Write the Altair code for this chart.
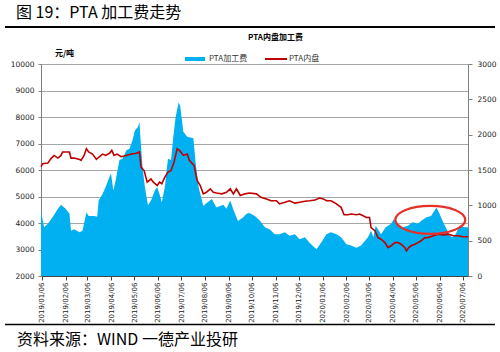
import altair as alt
import pandas as pd

# ---------------- data ----------------
fee_dates = [
    "2019/01/05", "2019/01/09", "2019/01/14", "2019/01/20", "2019/01/27", "2019/01/31",
    "2019/02/06", "2019/02/11", "2019/02/13", "2019/02/17", "2019/02/24", "2019/02/28",
    "2019/03/05", "2019/03/08", "2019/03/15", "2019/03/19", "2019/03/21", "2019/03/26",
    "2019/03/30", "2019/04/04", "2019/04/06", "2019/04/09", "2019/04/12", "2019/04/17",
    "2019/04/21", "2019/04/26", "2019/04/30", "2019/05/04", "2019/05/07", "2019/05/11",
    "2019/05/13", "2019/05/14", "2019/05/17", "2019/05/20", "2019/05/24", "2019/05/28",
    "2019/06/02", "2019/06/05", "2019/06/08", "2019/06/11", "2019/06/15", "2019/06/19",
    "2019/06/23", "2019/06/26", "2019/06/29", "2019/07/03", "2019/07/05", "2019/07/09",
    "2019/07/14", "2019/07/22", "2019/07/25", "2019/07/29", "2019/08/04", "2019/08/08",
    "2019/08/15", "2019/08/21", "2019/08/30", "2019/09/03", "2019/09/08", "2019/09/12",
    "2019/09/18", "2019/09/25", "2019/09/29", "2019/10/03", "2019/10/10", "2019/10/16",
    "2019/10/23", "2019/10/29", "2019/11/05", "2019/11/11", "2019/11/18", "2019/11/24",
    "2019/12/01", "2019/12/07", "2019/12/14", "2019/12/20", "2019/12/29", "2020/01/04",
    "2020/01/11", "2020/01/17", "2020/01/24", "2020/01/30", "2020/02/06", "2020/02/12",
    "2020/02/19", "2020/02/25", "2020/03/05", "2020/03/09", "2020/03/12", "2020/03/15",
    "2020/03/22", "2020/03/28", "2020/04/04", "2020/04/08", "2020/04/13", "2020/04/19",
    "2020/04/26", "2020/05/02", "2020/05/09", "2020/05/13", "2020/05/20", "2020/05/26",
    "2020/06/02", "2020/06/06", "2020/06/10", "2020/06/14", "2020/06/19", "2020/06/23",
    "2020/06/27", "2020/07/02", "2020/07/09", "2020/07/13",
]
fee_values = [
    920, 690, 740, 830, 950, 1010,
    950, 880, 640, 660, 620, 640,
    900, 850, 850, 840, 1070, 1160,
    1260, 1400, 1450, 1210, 1350, 1640,
    1660, 1780, 1800, 1920, 2060, 2110,
    2180, 1990, 1540, 1260, 1000, 1070,
    1210, 1260, 1160, 1040, 1260, 1660,
    1640, 1970, 2250, 2460, 2400, 2040,
    1970, 1950, 1600, 1250, 990, 1030,
    1090, 970, 1010, 950, 1070, 940,
    780, 830, 880, 890, 850, 790,
    690, 660, 590, 590, 620, 570,
    590, 520, 550, 470, 380, 470,
    590, 620, 590, 550, 450, 430,
    400, 430, 550, 640, 550, 710,
    590, 690, 740, 810, 740, 690,
    710, 760, 740, 780, 830, 850,
    970, 880, 780, 690, 570, 550,
    590, 710, 690, 690,
]

price_dates = [
    "2019/01/05", "2019/01/07", "2019/01/14", "2019/01/18", "2019/01/22", "2019/01/27",
    "2019/01/31", "2019/02/02", "2019/02/11", "2019/02/13", "2019/02/17", "2019/02/24",
    "2019/02/26", "2019/03/02", "2019/03/05", "2019/03/08", "2019/03/13", "2019/03/18",
    "2019/03/21", "2019/03/26", "2019/03/30", "2019/04/04", "2019/04/07", "2019/04/10",
    "2019/04/14", "2019/04/19", "2019/04/26", "2019/05/02", "2019/05/09", "2019/05/13",
    "2019/05/15", "2019/05/19", "2019/05/23", "2019/05/28", "2019/05/31", "2019/06/05",
    "2019/06/08", "2019/06/11", "2019/06/15", "2019/06/19", "2019/06/23", "2019/06/27",
    "2019/07/01", "2019/07/04", "2019/07/09", "2019/07/14", "2019/07/17", "2019/07/23",
    "2019/07/27", "2019/07/31", "2019/08/04", "2019/08/08", "2019/08/13", "2019/08/17",
    "2019/08/21", "2019/08/28", "2019/09/03", "2019/09/08", "2019/09/12", "2019/09/16",
    "2019/09/21", "2019/09/27", "2019/10/03", "2019/10/12", "2019/10/18", "2019/10/25",
    "2019/10/31", "2019/11/07", "2019/11/11", "2019/11/18", "2019/11/24", "2019/12/01",
    "2019/12/07", "2019/12/14", "2019/12/20", "2019/12/27", "2020/01/02", "2020/01/07",
    "2020/01/11", "2020/01/17", "2020/01/24", "2020/01/30", "2020/02/03", "2020/02/08",
    "2020/02/12", "2020/02/19", "2020/02/23", "2020/02/27", "2020/03/03", "2020/03/07",
    "2020/03/09", "2020/03/14", "2020/03/18", "2020/03/22", "2020/03/27", "2020/03/31",
    "2020/04/04", "2020/04/09", "2020/04/13", "2020/04/17", "2020/04/22", "2020/04/24",
    "2020/04/27", "2020/04/30", "2020/05/05", "2020/05/09", "2020/05/13", "2020/05/18",
    "2020/05/22", "2020/05/29", "2020/06/04", "2020/06/11", "2020/06/17", "2020/06/24",
    "2020/06/30", "2020/07/06", "2020/07/13",
]
price_values = [
    6130, 6240, 6260, 6430, 6550, 6450,
    6550, 6680, 6680, 6450, 6450, 6400,
    6360, 6550, 6800, 6680, 6600, 6400,
    6480, 6600, 6550, 6630, 6740, 6550,
    6600, 6500, 6550, 6600, 6630, 6680,
    6110, 5980, 5540, 5660, 5540, 5410,
    5540, 5480, 5730, 5920, 5980, 6300,
    6800, 6740, 6550, 6600, 6360, 6170,
    5600, 5410, 5100, 5160, 5290, 5160,
    5130, 5100, 5160, 5290, 5100, 5290,
    5040, 5100, 5130, 5100, 4970, 4910,
    4840, 4840, 4720, 4780, 4840, 4750,
    4780, 4820, 4840, 4870, 4940, 4910,
    4840, 4840, 4720, 4590, 4310, 4310,
    4340, 4310, 4340, 4280, 4210, 4210,
    3830, 3710, 3450, 3390, 3260, 3070,
    3140, 3260, 3260, 3200, 3070, 2950,
    3070, 3140, 3200, 3260, 3330, 3450,
    3450, 3520, 3580, 3550, 3580, 3520,
    3520, 3480, 3480,
]

tick_labels = [
    "2019/01/06", "2019/02/06", "2019/03/06", "2019/04/06", "2019/05/06", "2019/06/06",
    "2019/07/06", "2019/08/06", "2019/09/06", "2019/10/06", "2019/11/06", "2019/12/06",
    "2020/01/06", "2020/02/06", "2020/03/06", "2020/04/06", "2020/05/06", "2020/06/06",
    "2020/07/06",
]
left_ticks = [2000, 3000, 4000, 5000, 6000, 7000, 8000, 9000, 10000]
right_ticks = [0, 500, 1000, 1500, 2000, 2500, 3000]

highlight_date = ["2020/05/25"]
highlight_price = [4120]

series_fee = "PTA加工费"
series_price = "PTA内盘"

# ---------------- build ----------------
def to_dt(s):
    y, m, d = (int(p) for p in s.split("/"))
    return alt.DateTime(year=y, month=m, date=d)

fee_df = pd.DataFrame({"date": fee_dates, "fee": fee_values})
price_df = pd.DataFrame({"date": price_dates, "price": price_values})
hl_df = pd.DataFrame({"date": highlight_date, "price": highlight_price})

BLUE = "#00B0F0"
RED = "#C00000"
FONT = "DejaVu Sans"
CJK = "Noto Sans CJK SC"

x_scale = alt.Scale(domain=[to_dt("2019/01/05"), to_dt("2020/07/13")])
x_axis = alt.Axis(
    values=[to_dt(t) for t in tick_labels], format="%Y/%m/%d", labelAngle=270,
    labelFontSize=7, labelFont=FONT, labelColor="#222222", labelOverlap=False,
    tickSize=4, tickColor="#444444", domainColor="#444444", grid=False, title=None,
    labelPadding=2,
)
X = alt.X("date:T", scale=x_scale, axis=x_axis)

area = alt.Chart(fee_df).mark_area(color=BLUE, opacity=1).encode(
    x=X,
    y=alt.Y("fee:Q", scale=alt.Scale(domain=[0, 3000], nice=False),
            axis=alt.Axis(orient="right", values=right_ticks, grid=False, title=None,
                          format="d",
                          labelFontSize=7.5, labelFont=FONT, labelColor="#222222",
                          tickSize=4, tickColor="#808080", domainColor="#808080",
                          labelPadding=5)),
)

y_left = alt.Axis(orient="left", values=left_ticks, grid=True, gridColor="#a6a6a6",
                  gridWidth=1, title=None, format="d", labelFontSize=7.5, labelFont=FONT,
                  labelColor="#222222", tickSize=3, tickColor="#808080",
                  domainColor="#808080", labelPadding=4)
y_price_scale = alt.Scale(domain=[2000, 10000], nice=False)

line = alt.Chart(price_df).mark_line(color=RED, strokeWidth=1.6).encode(
    x=X,
    y=alt.Y("price:Q", scale=y_price_scale, axis=y_left),
)

ellipse = alt.Chart(hl_df).mark_point(
    shape="M -1 0 A 1 0.4 0 1 1 1 0 A 1 0.4 0 1 1 -1 0 Z",
    size=4900, filled=False, color="#E8302A", strokeWidth=2.2, opacity=1,
).encode(
    x=X,
    y=alt.Y("price:Q", scale=y_price_scale, axis=y_left),
)

dummy = alt.Data(values=[{}])

def txt(s, x, y, size, weight="normal", font=CJK, align="left", color="#000000"):
    return alt.Chart(dummy).mark_text(
        align=align, baseline="middle", fontSize=size, fontWeight=weight, font=font,
        color=color,
    ).encode(x=alt.value(x), y=alt.value(y), text=alt.value(s))

def hrule(x1, x2, y, width, color="#000000"):
    return alt.Chart(dummy).mark_rule(color=color, strokeWidth=width).encode(
        x=alt.value(x1), x2=alt.value(x2), y=alt.value(y))

decor = [
    txt("图 19：PTA 加工费走势", -25, -51, 16),
    hrule(-36, 454, -37, 2),
    txt("PTA内盘加工费", 207, -26, 8, weight="bold"),
    txt("元/吨", 14, -10, 8, weight="bold"),
    alt.Chart(dummy).mark_rect(color=BLUE).encode(
        x=alt.value(144), x2=alt.value(164), y=alt.value(-7), y2=alt.value(-3)),
    txt(series_fee, 168, -5, 8, color="#333333"),
    hrule(224, 246, -5, 2, color=RED),
    txt(series_price, 248, -5, 8, color="#333333"),
    hrule(-36, 454, 260.5, 1.5),
    txt("资料来源：WIND 一德产业投研", -24, 276, 16),
]

chart = alt.layer(
    area,
    alt.layer(line, ellipse),
    *decor,
).resolve_scale(y="independent").properties(
    width=427, height=212,
    padding={"left": 41, "top": 64, "right": 32, "bottom": 76},
    autosize=alt.AutoSizeParams(type="none"),
).configure_view(stroke=None).configure(background="#ffffff")

chart.save("out.html", embed_options={"renderer": "svg", "actions": False})
